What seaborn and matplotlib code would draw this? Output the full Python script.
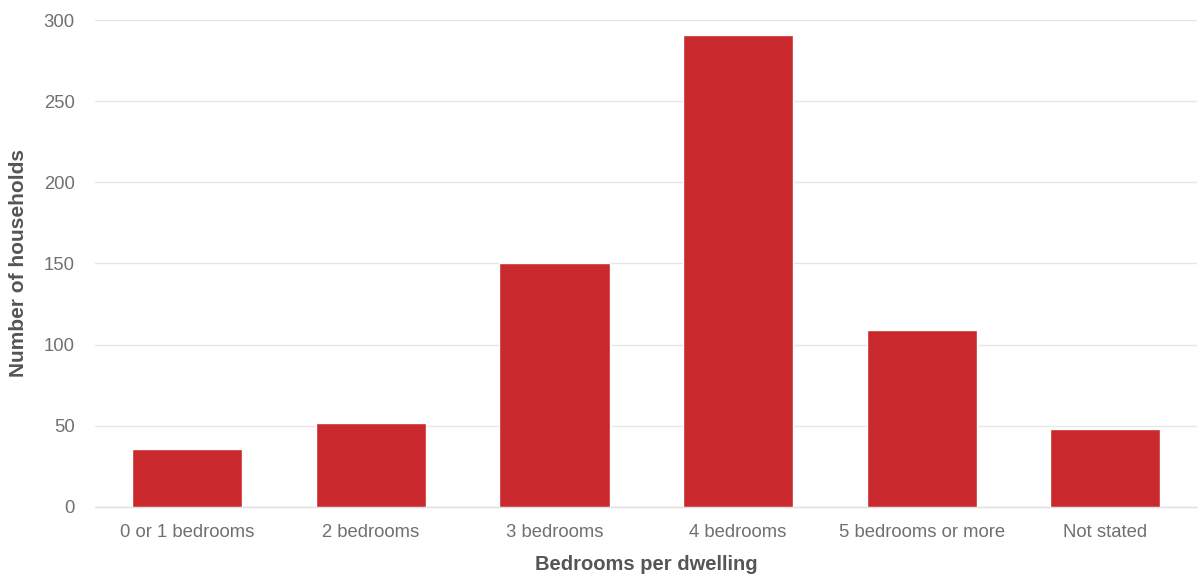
import matplotlib
matplotlib.use("Agg")
import matplotlib.pyplot as plt
import seaborn as sns
import pandas as pd

categories = ["0 or 1 bedrooms", "2 bedrooms", "3 bedrooms", "4 bedrooms",
              "5 bedrooms or more", "Not stated"]
households = [36, 52, 150, 291, 109, 48]
y_ticks = [0, 50, 100, 150, 200, 250, 300]

sns.set_theme(style="white")
plt.rcParams["font.family"] = ["Liberation Sans", "DejaVu Sans"]

df = pd.DataFrame({"category": categories, "households": households})

fig = plt.figure(figsize=(11.98, 5.75), dpi=100)
ax = fig.add_axes([0.0797, 0.1183, 0.9195, 0.8469])

sns.barplot(data=df, x="category", y="households", color="#C9282D",
            saturation=1, width=0.6, ax=ax, zorder=3)

ax.set_ylim(0, 300)
ax.set_yticks(y_ticks)
ax.set_xlim(-0.5, len(categories) - 0.5)
ax.grid(axis="y", color="#E6E6E6", linewidth=1, zorder=0)
ax.grid(axis="x", visible=False)
for side in ["top", "right", "left"]:
    ax.spines[side].set_visible(False)
ax.spines["bottom"].set_color("#E0E0E0")
ax.spines["bottom"].set_linewidth(1)

ax.tick_params(axis="y", length=0, pad=15, labelsize=13.3, labelcolor="#707070")
ax.tick_params(axis="x", length=7, width=1, color="#D0D0D0", pad=5,
               labelsize=13.3, labelcolor="#707070")

ax.set_xlabel("Bedrooms per dwelling", fontsize=14.5, fontweight="bold",
              color="#555555", labelpad=10)
ax.set_ylabel("Number of households", fontsize=15, fontweight="bold",
              color="#555555", labelpad=11)

fig.savefig("out.png", dpi=100, facecolor="white")
